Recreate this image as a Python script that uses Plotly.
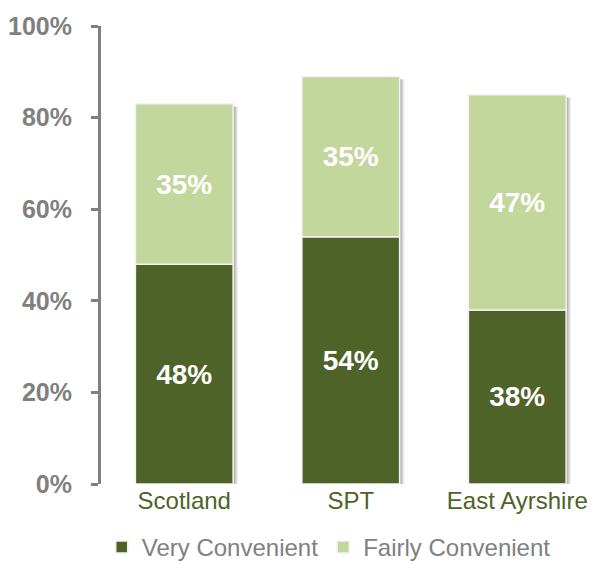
import plotly.graph_objects as go

categories = ["Scotland", "SPT", "East Ayrshire"]
very_convenient = [48, 54, 38]
fairly_convenient = [35, 35, 47]
y_ticks = [0, 20, 40, 60, 80, 100]
y_tick_labels = ["0%", "20%", "40%", "60%", "80%", "100%"]

dark_green = "#4F6228"
light_green = "#C3D69B"
gray = "#808080"
font_family = "Liberation Sans, Arial"
bar_width = 0.587

totals = [a + b for a, b in zip(very_convenient, fairly_convenient)]

fig = go.Figure()
# soft drop shadow behind each stacked bar
for k, alpha in [(0.030, 0.06), (0.022, 0.10), (0.014, 0.14)]:
    fig.add_trace(go.Bar(
        x=categories, y=totals, base=[-0.6] * 3, width=bar_width,
        offset=-bar_width / 2 + k,
        marker=dict(color=f"rgba(0,0,0,{alpha})", line=dict(width=0)),
        showlegend=False, hoverinfo="skip",
    ))
fig.add_trace(go.Bar(
    x=categories, y=very_convenient, name="Very Convenient",
    width=bar_width, offset=-bar_width / 2,
    marker=dict(color=dark_green, line=dict(color="#F2F2F2", width=1.5)),
    text=[f"{v}%" for v in very_convenient], textposition="inside",
    insidetextanchor="middle",
    textfont=dict(color="white", size=28, family=font_family, weight="bold"),
))
fig.add_trace(go.Bar(
    x=categories, y=fairly_convenient, base=very_convenient, name="Fairly Convenient",
    width=bar_width, offset=-bar_width / 2,
    marker=dict(color=light_green, line=dict(color="#F2F2F2", width=1.5)),
    text=[f"{v}%" for v in fairly_convenient], textposition="inside",
    insidetextanchor="middle",
    textfont=dict(color="white", size=28, family=font_family, weight="bold"),
))

fig.update_layout(
    barmode="overlay",
    width=580, height=556,
    margin=dict(l=91, r=0, t=18, b=80),
    plot_bgcolor="white", paper_bgcolor="white",
    font=dict(family=font_family, color=gray),
    showlegend=True,
    legend=dict(orientation="h", xref="container", yref="container",
                x=0.553, xanchor="center", y=0.03, yanchor="middle",
                font=dict(size=24, color=gray), traceorder="normal",
                itemwidth=30),
    xaxis=dict(range=[-0.5, 2.425], showline=False, ticks="",
               tickfont=dict(size=24, color=dark_green), showgrid=False),
    yaxis=dict(range=[0, 100], tickvals=y_ticks, ticktext=y_tick_labels,
               showline=True, linecolor=gray, linewidth=3,
               ticks="outside", ticklen=7, tickwidth=3, tickcolor=gray,
               tickfont=dict(size=25, color=gray, weight="bold"),
               ticklabelstandoff=14, showgrid=False, zeroline=False),
)

fig.write_html("out.html")
